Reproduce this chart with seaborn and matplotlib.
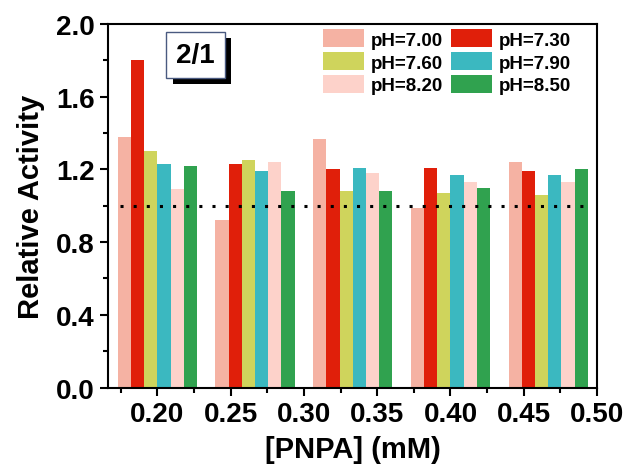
import seaborn as sns
import matplotlib.pyplot as plt
import matplotlib.patheffects as pe
from matplotlib.ticker import MultipleLocator
import pandas as pd

# =========================
# data
# =========================

conc = [0.2 + k / 15 for k in range(5)]
ph_labels = ["pH=7.00", "pH=7.30", "pH=7.60", "pH=7.90", "pH=8.20", "pH=8.50"]
ph_colors = ["#F5B2A3", "#E01F0A", "#CFD45C", "#3BB8C0", "#FDD2CA", "#30A24F"]

ph700 = [1.38, 0.92, 1.37, 0.99, 1.24]
ph730 = [1.80, 1.23, 1.20, 1.21, 1.19]
ph760 = [1.30, 1.25, 1.08, 1.07, 1.06]
ph790 = [1.23, 1.19, 1.21, 1.17, 1.17]
ph820 = [1.09, 1.24, 1.18, 1.13, 1.13]
ph850 = [1.22, 1.08, 1.08, 1.10, 1.20]

series = [ph700, ph730, ph760, ph790, ph820, ph850]

rows = []
for lab, vals in zip(ph_labels, series):
    for c, v in zip(conc, vals):
        rows.append({"conc": c, "activity": v, "pH": lab})
df = pd.DataFrame(rows)

# =========================
# plot
# =========================

sns.set_style("ticks")
plt.rcParams["font.family"] = ["Liberation Sans", "DejaVu Sans"]
plt.rcParams["font.weight"] = "bold"
for key in ["text.color", "axes.labelcolor", "xtick.color", "ytick.color"]:
    plt.rcParams[key] = "black"

fig = plt.figure(figsize=(6.3, 4.77), dpi=100)
ax = fig.add_axes([0.1714, 0.1855, 0.7762, 0.7621])

sns.barplot(
    data=df, x="conc", y="activity", hue="pH",
    hue_order=ph_labels, palette=dict(zip(ph_labels, ph_colors)),
    native_scale=True, width=0.81, saturation=1, errorbar=None,
    linewidth=0, ax=ax
)

ax.axhline(1.0, xmin=0.025, xmax=0.99, color="black",
           lw=2.2, dashes=(1, 3.3), zorder=3)

ax.set_xlim(0.1663, 0.50)
ax.set_ylim(0, 2.0)
ax.set_xticks([0.20, 0.25, 0.30, 0.35, 0.40, 0.45, 0.50])
ax.set_xticklabels(["0.20", "0.25", "0.30", "0.35", "0.40", "0.45", "0.50"])
ax.xaxis.set_minor_locator(MultipleLocator(0.025))
ax.set_yticks([0.0, 0.4, 0.8, 1.2, 1.6, 2.0])
ax.set_yticklabels(["0.0", "0.4", "0.8", "1.2", "1.6", "2.0"])
ax.yaxis.set_minor_locator(MultipleLocator(0.2))

ax.tick_params(which="major", direction="out", length=5.5, width=1.5,
               labelsize=20, pad=4, colors="black")
ax.tick_params(which="minor", direction="out", length=3.5, width=1.5,
               colors="black")
for s in ax.spines.values():
    s.set_linewidth(1.5)
    s.set_color("black")

ax.set_xlabel("[PNPA] (mM)", fontsize=21, fontweight="bold", labelpad=6,
              color="black")
ax.set_ylabel("Relative Activity", fontsize=21, fontweight="bold", labelpad=8,
              color="black")

handles, labels = ax.get_legend_handles_labels()
order = [0, 2, 4, 1, 3, 5]
leg = ax.legend([handles[i] for i in order], [labels[i] for i in order],
                ncol=2, loc="upper left", bbox_to_anchor=(0.44, 0.985),
                frameon=False, fontsize=13.5, handlelength=2.2,
                handleheight=1.1, handletextpad=0.35, columnspacing=0.4,
                labelspacing=0.18, borderpad=0, borderaxespad=0)
for txt in leg.get_texts():
    txt.set_color("black")

t = ax.text(0.179, 0.915, "2/1", transform=ax.transAxes, fontsize=20,
            fontweight="bold", ha="center", va="center", color="black",
            bbox=dict(boxstyle="square,pad=0.35", facecolor="white",
                      edgecolor="#4A5A80", linewidth=1))
t.get_bbox_patch().set_path_effects(
    [pe.SimplePatchShadow(offset=(4.5, -4.5), shadow_rgbFace="black", alpha=1),
     pe.Normal()])

fig.savefig("out.png", dpi=100)
